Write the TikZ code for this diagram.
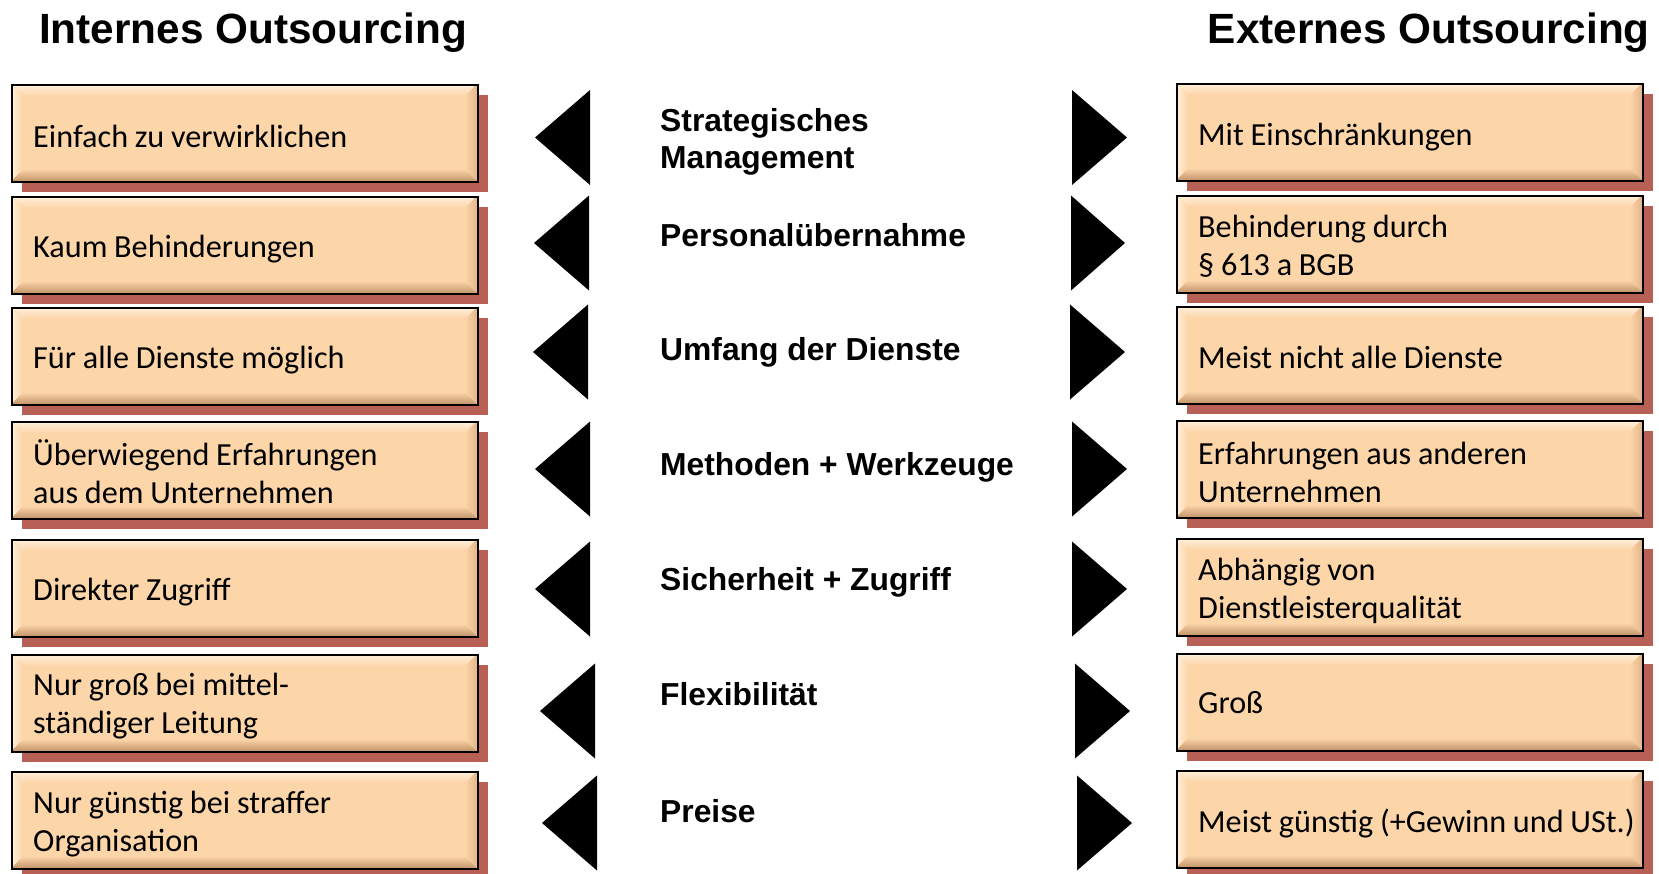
\documentclass[tikz,border=0pt]{standalone}
\usepackage{fontspec}
\setmainfont{Carlito}[WordSpace=0.93]
\newfontfamily\headfont{Liberation Sans}
\definecolor{boxfill}{RGB}{252,213,168}
\definecolor{bevlight}{RGB}{255,240,222}
\definecolor{bevdark}{RGB}{196,150,108}
\definecolor{bevside}{RGB}{226,182,138}
\definecolor{shadowc}{RGB}{184,96,85}
\tikzset{
  boxframe/.style={draw=black, line width=2.4pt, minimum width=466pt, minimum height=97pt,
    anchor=north west, inner sep=0pt},
  boxlabel/.style={anchor=west, align=left, inner sep=0pt,
    font=\fontsize{32.2}{38}\selectfont},
  midlabel/.style={align=left, inner sep=0pt,
    font=\headfont\bfseries\fontsize{31.8}{37}\selectfont},
  titlelabel/.style={inner sep=0pt, font=\headfont\bfseries\fontsize{42.3}{50}\selectfont},
  tri/.style={fill=black}
}
% name, left x, top y, text, vertical offset of text
\newcommand\obox[5]{%
  \fill[shadowc] (#2+11,#3+11) rectangle (#2+477,#3+108);
  \fill[boxfill] (#2,#3) rectangle (#2+466,#3+97);
  \shade[top color=bevlight, bottom color=boxfill] (#2,#3) -- (#2+466,#3) -- (#2+454,#3+12) -- (#2+12,#3+12) -- cycle;
  \shade[top color=boxfill, bottom color=bevdark] (#2,#3+97) -- (#2+466,#3+97) -- (#2+454,#3+85) -- (#2+12,#3+85) -- cycle;
  \shade[left color=bevlight, right color=boxfill] (#2,#3) -- (#2+12,#3+12) -- (#2+12,#3+85) -- (#2,#3+97) -- cycle;
  \shade[left color=boxfill, right color=bevside] (#2+466,#3) -- (#2+454,#3+12) -- (#2+454,#3+85) -- (#2+466,#3+97) -- cycle;
  \node[boxframe] (#1) at (#2,#3) {};
  \node[boxlabel] (#1t) at (#2+22,#3+48.5+#5) {#4};
}
\newcommand\ltri[4]{% name, tip x, base x, center y
  \fill[tri] (#2,#4) -- (#3,#4-47.5) -- (#3,#4+47.5) -- cycle;
  \coordinate (#1) at (#2,#4);
}
\newcommand\rtri[4]{% name, base x, tip x, center y
  \fill[tri] (#3,#4) -- (#2,#4-47.5) -- (#2,#4+47.5) -- cycle;
  \coordinate (#1) at (#3,#4);
}
\begin{document}
\begin{tikzpicture}[x=1pt,y=-1pt]
\useasboundingbox (0,0) rectangle (1659,873);
\fill[white] (0,0) rectangle (1659,873);

\node[titlelabel, anchor=base west] (tl) at (39,43) {Internes Outsourcing};
\node[titlelabel, anchor=base east] (tr) at (1650,43) {Externes Outsourcing};

% left boxes
\obox{l1}{11}{84}{Einfach zu verwirklichen}{4}
\obox{l2}{11}{196}{Kaum Behinderungen}{4.5}
\obox{l3}{11}{307}{Für alle Dienste möglich}{4.5}
\obox{l4}{11}{421}{Überwiegend Erfahrungen\\aus dem Unternehmen}{2.5}
\obox{l5}{11}{539}{Direkter Zugriff}{4.5}
\obox{l6}{11}{654}{Nur groß bei mittel-\\ständiger Leitung}{3.5}
\obox{l7}{11}{771}{Nur günstig bei straffer\\Organisation}{4.5}

% right boxes
\obox{r1}{1176}{83}{Mit Einschränkungen}{5.5}
\obox{r2}{1176}{195}{Behinderung durch\\§ 613 a BGB}{2.5}
\obox{r3}{1176}{306}{Meist nicht alle Dienste}{2.5}
\obox{r4}{1176}{420}{Erfahrungen aus anderen\\Unternehmen}{3.5}
\obox{r5}{1176}{538}{Abhängig von\\Dienstleisterqualität}{4.5}
\obox{r6}{1176}{653}{Groß}{1.5}
\obox{r7}{1176}{770}{Meist günstig (+Gewinn und USt.)}{4.5}

% triangles
\ltri{lt1}{535}{590}{137.5}
\ltri{lt2}{534}{589}{243}
\ltri{lt3}{533}{588}{352}
\ltri{lt4}{535}{590}{469}
\ltri{lt5}{535}{590}{589}
\ltri{lt6}{540}{595}{711}
\ltri{lt7}{542}{597}{823}
\rtri{rt1}{1072}{1127}{137.5}
\rtri{rt2}{1071}{1125}{243}
\rtri{rt3}{1070}{1125}{352}
\rtri{rt4}{1072}{1127}{469}
\rtri{rt5}{1072}{1127}{589}
\rtri{rt6}{1075}{1130}{711}
\rtri{rt7}{1077}{1132}{823}

% middle labels
\node[midlabel, anchor=west] (m1) at (660,141.5) {Strategisches\\Management};
\node[midlabel, anchor=base west] (m2) at (660,246) {Personalübernahme};
\node[midlabel, anchor=base west] (m3) at (660,360.5) {Umfang der Dienste};
\node[midlabel, anchor=base west] (m4) at (660,475.5) {Methoden + Werkzeuge};
\node[midlabel, anchor=base west] (m5) at (660,590.5) {Sicherheit + Zugriff};
\node[midlabel, anchor=base west] (m6) at (660,705.5) {Flexibilität};
\node[midlabel, anchor=base west] (m7) at (660,822.5) {Preise};
\end{tikzpicture}
\end{document}
